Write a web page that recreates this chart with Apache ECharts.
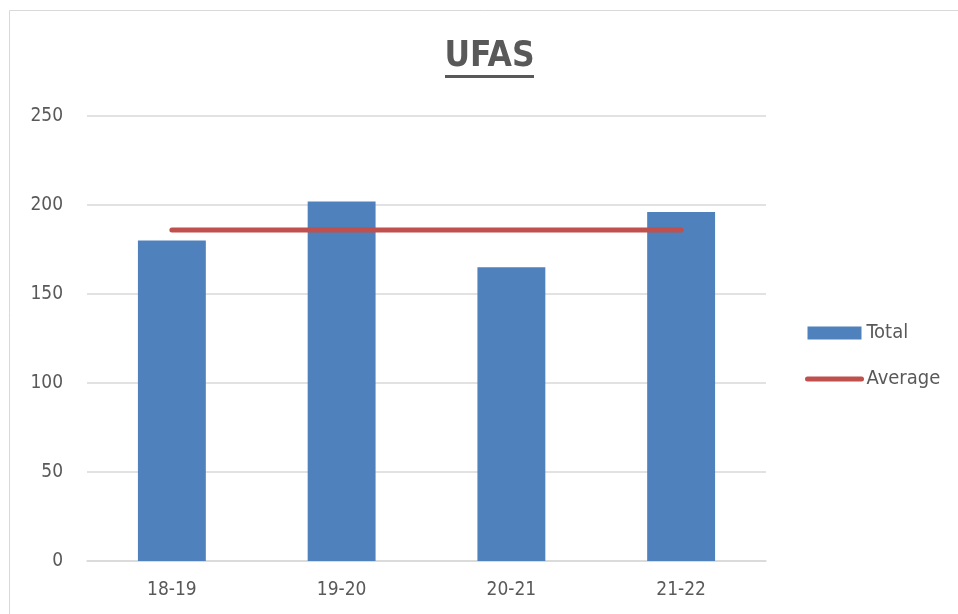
<!DOCTYPE html>
<html style="width: 100%;height:100%;">
<head>
    <meta charset="utf-8">
    <title>UFAS</title>
    <script src="https://cdn.jsdelivr.net/npm/echarts@6/dist/echarts.min.js"></script>
    <style>
        html, body { margin: 0; padding: 0; background: #ffffff; }
        #chart { width: 958px; height: 614px; }
    </style>
</head>
<body>
<div id="chart"></div>
<script>
    const categories = ['18-19', '19-20', '20-21', '21-22'];
    const totals = [180, 202, 165, 196];
    const averages = [186, 186, 186, 186];
    const yTicks = { min: 0, max: 250, interval: 50 };

    const chart = echarts.init(document.getElementById('chart'));
    const font = "'Liberation Sans Narrow', 'DejaVu Sans Condensed', sans-serif";

    const option = {
        animation: false,
        backgroundColor: '#ffffff',
        title: {
            text: 'UFAS',
            left: 484.5,
            top: 34,
            textAlign: 'center',
            textStyle: { fontFamily: font, fontSize: 35, fontWeight: 'bold', color: '#595959' }
        },
        graphic: [
            // chart frame and title underline
            { type: 'rect', shape: { x: 9.5, y: 10.5, width: 970, height: 620 }, style: { fill: 'none', stroke: '#D9D9D9', lineWidth: 1 }, silent: true },
            { type: 'rect', shape: { x: 445, y: 75, width: 89, height: 3 }, style: { fill: '#595959' }, silent: true }
        ],
        grid: { left: 87, right: 192, top: 116, bottom: 53 },
        legend: {
            orient: 'vertical',
            left: 800,
            top: 318,
            itemWidth: 54,
            itemHeight: 13,
            itemGap: 26,
            textStyle: { fontFamily: font, fontSize: 20, color: '#595959', padding: [0, 0, 0, 0] },
            data: [
                { name: 'Total', icon: 'rect' },
                {
                    name: 'Average',
                    lineStyle: { width: 5, cap: 'round', color: '#C0504D' },
                    itemStyle: { color: 'rgba(0,0,0,0)', borderWidth: 0 }
                }
            ]
        },
        xAxis: {
            type: 'category',
            data: categories,
            axisLine: { lineStyle: { color: '#D9D9D9', width: 1.5 } },
            axisTick: { show: false },
            axisLabel: { fontFamily: font, fontSize: 19, color: '#595959', margin: 20 }
        },
        yAxis: {
            type: 'value',
            min: yTicks.min,
            max: yTicks.max,
            interval: yTicks.interval,
            axisLine: { show: false },
            axisTick: { show: false },
            splitLine: { lineStyle: { color: '#D9D9D9', width: 1.5 } },
            axisLabel: { fontFamily: font, fontSize: 19, color: '#595959', margin: 24 }
        },
        series: [
            {
                name: 'Total',
                type: 'bar',
                data: totals,
                barWidth: '40%',
                itemStyle: { color: '#4F81BD' }
            },
            {
                name: 'Average',
                type: 'line',
                data: averages,
                symbol: 'none',
                lineStyle: { color: '#C0504D', width: 5, cap: 'round' },
                itemStyle: { color: '#C0504D' }
            }
        ]
    };

    chart.setOption(option);
</script>
</body>
</html>
